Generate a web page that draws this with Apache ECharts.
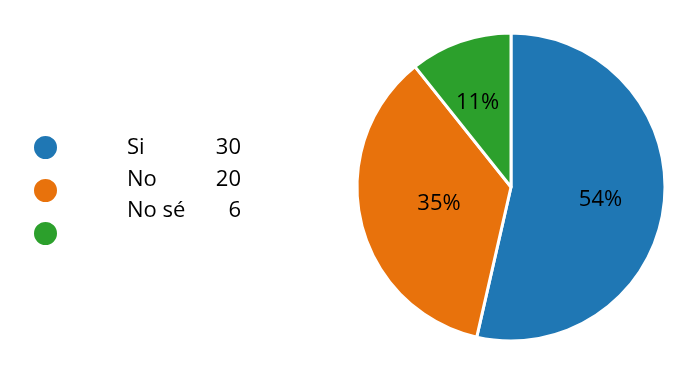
<!DOCTYPE html>
<html>
<head>
<meta charset="utf-8">
<script src="https://cdn.jsdelivr.net/npm/echarts@6/dist/echarts.min.js"></script>
<style>html,body{margin:0;padding:0;background:#fff}#c{width:680px;height:376px}</style>
</head>
<body>
<div id="c"></div>
<script>
var categories = ['Si', 'No', 'No sé'];
var values = [30, 20, 6];
var percentLabels = ['54%', '35%', '11%'];
var colors = ['#1F77B4', '#E8720C', '#2CA02C'];

var FONT = 'Open Sans';
var chart = echarts.init(document.getElementById('c'), null, {renderer: 'canvas'});

var textRowsY = [147, 179, 210];
var labelOffsets = [[10, 4], [6, -1], [-7, -9]];
var graphics = [];
categories.forEach(function (name, i) {
  graphics.push({
    type: 'text', left: 127, top: textRowsY[i] - 10,
    style: {text: name, font: '22px "' + FONT + '"', fill: '#000'}
  });
  graphics.push({
    type: 'text', right: 680 - 241, top: textRowsY[i] - 10,
    style: {text: String(values[i]), font: '22px "' + FONT + '"', fill: '#000', textAlign: 'right'}
  });
});

chart.setOption({
  animation: false,
  color: colors,
  legend: {
    orient: 'vertical',
    left: 32, top: 134,
    padding: 0,
    icon: 'circle',
    itemWidth: 25, itemHeight: 25,
    itemGap: 16,
    formatter: function () { return ''; },
    textStyle: {fontSize: 1, lineHeight: 1},
    data: categories
  },
  graphic: graphics,
  series: [{
    type: 'pie',
    center: [511, 187],
    radius: [0, 154],
    startAngle: 90,
    clockwise: true,
    itemStyle: {borderColor: '#fff', borderWidth: 3},
    label: {
      show: true,
      position: 'inside',
      fontFamily: FONT,
      fontSize: 22,
      color: '#000'
    },
    labelLine: {show: false},
    emphasis: {disabled: true},
    data: categories.map(function (n, i) {
      return {
        name: n, value: values[i],
        label: {offset: labelOffsets[i], formatter: percentLabels[i]}
      };
    })
  }]
});
</script>
</body>
</html>
